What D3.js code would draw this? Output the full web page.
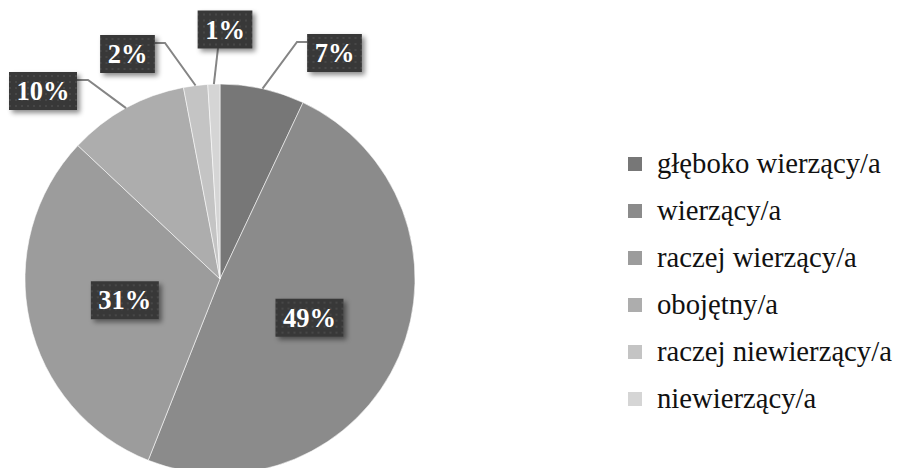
<!DOCTYPE html>
<html>
<head>
<meta charset="utf-8">
<script src="https://cdn.jsdelivr.net/npm/d3@7"></script>
<style>
  html, body { margin: 0; padding: 0; background: #fff; }
  svg { display: block; }
</style>
</head>
<body>
<svg id="chart" width="897" height="468"></svg>
<script>
// ---- data ----
const categories = ["głęboko wierzący/a", "wierzący/a", "raczej wierzący/a", "obojętny/a", "raczej niewierzący/a", "niewierzący/a"];
const values = [7, 49, 31, 10, 2, 1];
const labels = ["7%", "49%", "31%", "10%", "2%", "1%"];
const colors = ["#777777", "#8b8b8b", "#9c9c9c", "#adadad", "#c4c4c4", "#d5d5d5"];

// ---- layout ----
const W = 897, H = 468;
const cx = 220, cy = 279, R = 195;
const SERIF = "Liberation Serif";
// outer label box centres (null = inside label at centroid)
const outerLabelPos = [[334.5, 53], null, null, [43, 91], [127.5, 54], [225, 29.5]];
// leader-line elbow (x,y) and end point on box
const leaderElbow = [[297, 42], null, null, [88, 80], [165, 43], null];
const leaderEnd = [[307, 42], null, null, [77, 80], [155, 43], [218, 48]];

const svg = d3.select("#chart");
const defs = svg.append("defs");

const pat = defs.append("pattern").attr("id", "dots").attr("width", 6).attr("height", 6)
  .attr("patternUnits", "userSpaceOnUse");
pat.append("rect").attr("width", 6).attr("height", 6).attr("fill", "#383838");
pat.append("circle").attr("cx", 3).attr("cy", 3).attr("r", 1).attr("fill", "#4c4c4c");

const flt = defs.append("filter").attr("id", "shadow").attr("x", "-30%").attr("y", "-30%")
  .attr("width", "160%").attr("height", "170%");
flt.append("feDropShadow").attr("dx", 3).attr("dy", 3).attr("stdDeviation", 2.5)
  .attr("flood-color", "#000").attr("flood-opacity", 0.45);

const data = categories.map((c, i) => ({ cat: c, value: values[i], label: labels[i], color: colors[i], i }));

const pie = d3.pie().value(d => d.value).sort(null);
const arcs = pie(data);
const arc = d3.arc().innerRadius(0).outerRadius(R);
const edgeArc = d3.arc().innerRadius(R).outerRadius(R);
const midArc = d3.arc().innerRadius(R * 0.5).outerRadius(R * 0.5);

const g = svg.append("g").attr("transform", `translate(${cx},${cy})`);
g.selectAll("path.slice").data(arcs).join("path")
  .attr("class", "slice")
  .attr("d", arc)
  .attr("fill", d => d.data.color)
  .attr("stroke", "rgba(255,255,255,0.55)")
  .attr("stroke-width", 1);

// leader lines
arcs.forEach((a, i) => {
  if (!outerLabelPos[i]) return;
  const p0 = edgeArc.centroid(a);
  const pts = [[cx + p0[0], cy + p0[1]]];
  if (leaderElbow[i]) pts.push(leaderElbow[i]);
  pts.push(leaderEnd[i]);
  svg.append("path")
    .attr("d", d3.line()(pts))
    .attr("fill", "none")
    .attr("stroke", "#858585")
    .attr("stroke-width", 2);
});

// label boxes
const fontSize = 26.5;
arcs.forEach((a, i) => {
  let x, y;
  if (outerLabelPos[i]) { [x, y] = outerLabelPos[i]; }
  else { const c = midArc.centroid(a); x = cx + c[0]; y = cy + c[1]; }
  const lg = svg.append("g").attr("transform", `translate(${x},${y})`);
  const t = lg.append("text")
    .attr("text-anchor", "middle")
    .attr("dy", "0.34em")
    .attr("font-family", SERIF)
    .attr("font-weight", "bold")
    .attr("font-size", fontSize)
    .attr("fill", "#ffffff")
    .text(a.data.label);
  const tw = t.node().getComputedTextLength();
  const bw = tw + 15, bh = 38;
  lg.insert("rect", "text")
    .attr("x", -bw / 2).attr("y", -bh / 2)
    .attr("width", bw).attr("height", bh)
    .attr("fill", "url(#dots)")
    .attr("filter", "url(#shadow)");
});

// legend
const legend = svg.append("g").attr("transform", "translate(628,164)");
const rows = legend.selectAll("g").data(data).join("g")
  .attr("transform", (d, i) => `translate(0,${i * 47})`);
rows.append("rect").attr("x", 0).attr("y", -7).attr("width", 14).attr("height", 14)
  .attr("fill", d => d.color);
rows.append("text").attr("x", 29).attr("dy", "0.32em")
  .attr("font-family", SERIF)
  .attr("font-size", 28.7)
  .attr("fill", "#111")
  .text(d => d.cat);
</script>
</body>
</html>
